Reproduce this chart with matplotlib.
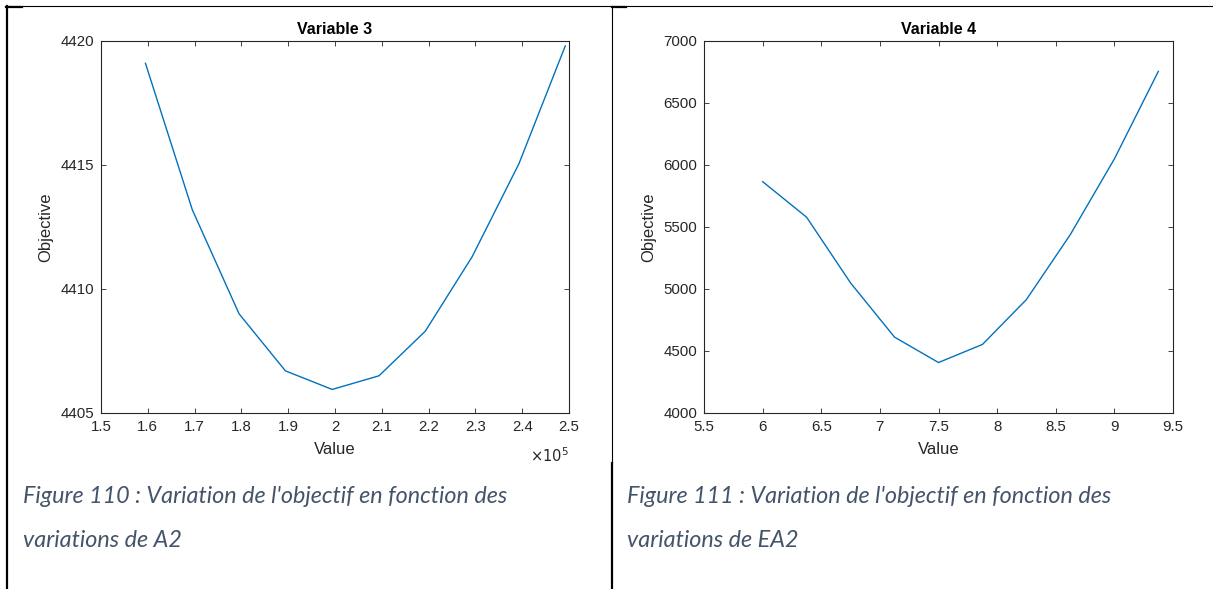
import matplotlib
matplotlib.use("Agg")
import matplotlib.pyplot as plt
from matplotlib.lines import Line2D
from matplotlib.ticker import FuncFormatter, MultipleLocator

W, H = 1213, 589

# Variable 3 (A2) sweep
var3_value = [1.595e5, 1.695e5, 1.795e5, 1.894e5, 1.994e5, 2.094e5, 2.193e5, 2.293e5, 2.393e5, 2.492e5]
var3_objective = [4419.1, 4413.2, 4409.0, 4406.7, 4405.95, 4406.5, 4408.3, 4411.3, 4415.05, 4419.8]

# Variable 4 (EA2) sweep
var4_value = [6.0, 6.375, 6.75, 7.125, 7.5, 7.875, 8.25, 8.625, 9.0, 9.375]
var4_objective = [5866, 5579, 5049, 4612, 4407, 4553, 4915, 5440, 6049, 6755]

titles = ["Variable 3", "Variable 4"]
captions = [
    ["Figure 110 : Variation de l'objectif en fonction des", "variations de A2"],
    ["Figure 111 : Variation de l'objectif en fonction des", "variations de EA2"],
]

LINE_C = "#0072BD"
AX_C = "#262626"
CAP_C = "#44546A"

plt.rcParams["font.family"] = ["Liberation Sans", "DejaVu Sans"]


def fx(px):
    return px / W


def fy(py):
    return 1 - py / H


fig = plt.figure(figsize=(W / 100, H / 100), dpi=100)
fig.patch.set_facecolor("white")


def make_axes(left_px, right_px):
    ax = fig.add_axes([fx(left_px), fy(413), (right_px - left_px) / W, (413 - 41) / H])
    for s in ax.spines.values():
        s.set_color(AX_C)
        s.set_linewidth(0.8)
    ax.tick_params(direction="in", top=True, right=True, length=3.6, width=0.6,
                   colors=AX_C, labelsize=10.8, pad=5)
    return ax


# left panel
ax1 = make_axes(101, 569)
ax1.plot(var3_value, var3_objective, color=LINE_C, lw=1.0)
ax1.set_xlim(1.5e5, 2.5e5)
ax1.set_ylim(4405, 4420)
ax1.xaxis.set_major_locator(MultipleLocator(0.1e5))
ax1.yaxis.set_major_locator(MultipleLocator(5))
ax1.xaxis.set_major_formatter(FuncFormatter(lambda v, p: f"{v / 1e5:g}"))
ax1.text(1.0, -0.115, r"$\times10^{5}$", transform=ax1.transAxes, ha="right", va="center",
         fontsize=10.5, color=AX_C)

# right panel
ax2 = make_axes(704, 1173)
ax2.plot(var4_value, var4_objective, color=LINE_C, lw=1.0)
ax2.set_xlim(5.5, 9.5)
ax2.set_ylim(4000, 7000)
ax2.xaxis.set_major_locator(MultipleLocator(0.5))
ax2.yaxis.set_major_locator(MultipleLocator(500))
ax2.xaxis.set_major_formatter(FuncFormatter(lambda v, p: f"{v:g}"))

for ax, title in zip([ax1, ax2], titles):
    ax.set_title(title, fontsize=11.5, fontweight="bold", color="black", pad=5)
    ax.set_xlabel("Value", fontsize=12, color=AX_C, labelpad=6)
    ax.set_ylabel("Objective", fontsize=12, color=AX_C, labelpad=5)

# captions
for x0, lines in zip([23, 627], captions):
    for yb, txt in zip([503, 547], lines):
        fig.text(fx(x0), fy(yb), txt, fontsize=16.8, style="italic", color=CAP_C,
                 family=["Lato", "DejaVu Sans"], ha="left", va="baseline")

# table borders
borders = [
    ((6, W), (6, 6), 0.8),
    ((7, 7), (6, H), 1.6),
    ((612, 612), (6, 463), 0.8),
    ((611.5, 611.5), (463, H), 1.6),
    ((6, 22), (7, 7), 1.6),
    ((612, 626), (7, 7), 1.6),
]
for xs, ys, lw in borders:
    fig.add_artist(Line2D([fx(xs[0]), fx(xs[1])], [fy(ys[0]), fy(ys[1])],
                          transform=fig.transFigure, color="black", lw=lw))

fig.savefig("out.png", dpi=100, facecolor="white")
